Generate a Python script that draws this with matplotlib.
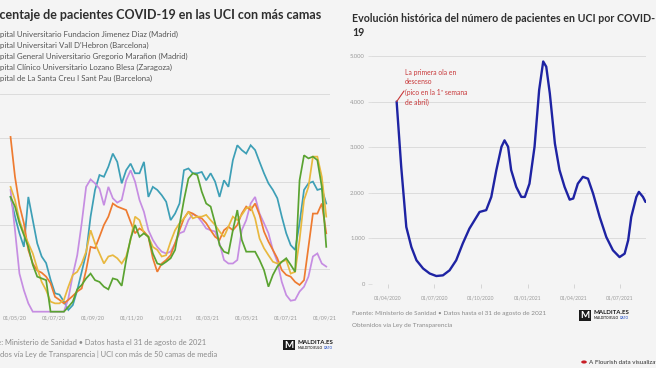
import matplotlib
matplotlib.use('Agg')
import matplotlib.pyplot as plt
import matplotlib.dates as mdates
import matplotlib.ticker as mticker
import pandas as pd
from matplotlib.patches import Rectangle, Circle

W, H = 656, 368
BG = '#f4f4f4'
FONT = 'Lato'
plt.rcParams['font.family'] = [FONT, 'DejaVu Sans']

# ---------------- data: left chart (weekly, % of ICU beds) ----------------
inicio_semanal = '2020-04-24'
hospitales = [
    'Hospital Universitario Fundacion Jimenez Diaz (Madrid)',
    "Hospital Universitari Vall D'Hebron (Barcelona)",
    'Hospital General Universitario Gregorio Marañon (Madrid)',
    'Hospital Clínico Universitario Lozano Blesa (Zaragoza)',
    'Hospital de La Santa Creu I Sant Pau (Barcelona)',
]
pct_jimenez_diaz = [26.5, 22.0, 18.2, 15.1, 26.5, 21.2, 15.9, 12.9, 11.4, 7.6, 4.5, 4.2, 2.6, 0.7, 1.8, 5.2,
                    9.4, 13.6, 22.0, 28.1, 31.5, 31.1, 33.4, 36.4, 34.5, 29.6, 32.6, 34.1, 31.9, 31.9, 34.5, 26.5,
                    28.8, 28.1, 26.9, 25.4, 21.2, 22.7, 25.0, 32.6, 33.0, 31.9, 31.9, 32.2, 30.3, 31.9, 30.0, 26.5,
                    30.3, 28.8, 34.9, 38.3, 37.2, 36.4, 38.3, 37.2, 34.5, 31.9, 29.6, 28.1, 26.2, 22.0, 18.2, 15.5,
                    14.4, 20.5, 28.1, 29.6, 30.0, 28.1, 28.4, 25.0]
pct_vall_hebron = [40.2, 31.1, 24.6, 20.5, 14.4, 11.3, 9.7, 9.2, 8.3, 6.8, 3.7, 3.0, 2.2, 3.0, 3.9, 4.9,
                   5.6, 9.8, 15.1, 14.8, 17.4, 20.1, 22.0, 25.0, 24.3, 23.9, 23.5, 20.8, 18.2, 19.3, 18.6, 17.4,
                   12.5, 9.4, 11.3, 12.1, 13.2, 15.9, 18.9, 21.6, 23.1, 22.7, 22.0, 21.6, 20.5, 18.9, 17.4, 16.7,
                   18.9, 19.7, 18.9, 20.1, 22.7, 24.3, 23.5, 25.0, 22.4, 18.6, 16.3, 14.4, 12.5, 9.8, 8.7, 8.3,
                   7.1, 6.4, 7.5, 15.1, 22.7, 22.7, 25.0, 18.2]
pct_gregorio_maranon = [28.8, 25.8, 21.2, 18.2, 15.9, 13.6, 10.2, 7.1, 5.2, 2.6, 2.2, 2.2, 3.0, 6.0, 8.7, 9.4,
                        11.3, 14.0, 18.9, 15.9, 13.6, 11.3, 12.9, 13.2, 12.5, 11.3, 12.9, 16.7, 22.0, 21.2, 18.2, 17.4,
                        15.1, 14.4, 12.9, 13.2, 16.3, 18.9, 20.5, 21.6, 23.1, 21.6, 22.0, 22.0, 22.4, 21.2, 20.1, 18.6,
                        17.4, 19.7, 22.0, 21.2, 22.4, 23.9, 24.3, 21.6, 17.0, 14.8, 13.2, 11.7, 11.3, 11.7, 12.1, 9.0,
                        9.4, 16.7, 25.8, 28.8, 35.7, 35.7, 31.1, 22.0]
pct_lozano_blesa = [26.5, 24.3, 20.5, 17.8, 15.1, 11.0, 8.3, 7.9, 7.5, 0.3, 0.3, 0.3, 0.3, 1.4, 2.6, 5.4,
                    6.4, 7.9, 9.0, 7.5, 7.1, 6.0, 5.4, 7.9, 7.6, 6.2, 12.1, 17.0, 20.1, 17.4, 18.2, 17.4,
                    13.6, 11.3, 11.0, 11.7, 12.5, 14.4, 20.1, 25.8, 30.7, 31.9, 31.5, 27.7, 25.0, 24.3, 20.5, 15.5,
                    14.0, 13.6, 18.9, 23.5, 16.7, 14.0, 14.0, 14.0, 12.1, 9.8, 6.0, 8.7, 10.6, 11.7, 12.5, 11.0,
                    9.4, 30.3, 36.0, 35.3, 35.7, 34.9, 28.8, 15.1]
pct_sant_pau = [28.1, 18.9, 9.0, 5.2, 2.2, 0.3, 0.3, 0.3, 0.3, 0.3, 0.3, 0.3, 0.3, 3.3, 8.7, 13.2,
                20.5, 28.8, 30.5, 29.6, 28.4, 24.6, 28.8, 26.2, 25.2, 25.8, 30.3, 32.6, 30.0, 25.8, 23.1, 18.9,
                16.7, 15.1, 14.0, 13.6, 14.0, 15.9, 18.2, 18.6, 21.2, 22.6, 22.1, 20.8, 19.3, 18.9, 18.6, 15.9,
                12.1, 11.3, 11.3, 12.1, 18.9, 21.2, 25.0, 26.5, 22.7, 20.5, 18.2, 14.4, 11.7, 7.1, 4.1, 2.8,
                3.0, 4.9, 6.0, 8.3, 12.9, 13.6, 11.3, 10.6]
colores_hosp = ['#3d9fb6', '#ee7b30', '#e8b83f', '#5aa331', '#c68de2']
ticks_izq = ['2020-05-01', '2020-07-01', '2020-09-01', '2020-11-01', '2021-01-01',
             '2021-03-01', '2021-05-01', '2021-07-01', '2021-09-01']

# ---------------- data: right chart (ICU patients) ----------------
fechas_uci = ['2020-04-18', '2020-04-27', '2020-05-07', '2020-05-17', '2020-05-27', '2020-06-09',
              '2020-06-22', '2020-07-05', '2020-07-18', '2020-07-31', '2020-08-13', '2020-08-26',
              '2020-09-08', '2020-09-22', '2020-09-28', '2020-10-11', '2020-10-21', '2020-10-31',
              '2020-11-10', '2020-11-16', '2020-11-23', '2020-11-29', '2020-12-09', '2020-12-19',
              '2020-12-26', '2021-01-04', '2021-01-14', '2021-01-23', '2021-01-31', '2021-02-06',
              '2021-02-13', '2021-02-23', '2021-03-04', '2021-03-14', '2021-03-24', '2021-03-31',
              '2021-04-09', '2021-04-19', '2021-04-29', '2021-05-09', '2021-05-22', '2021-06-04',
              '2021-06-17', '2021-06-30', '2021-07-10', '2021-07-17', '2021-07-23', '2021-08-02',
              '2021-08-07', '2021-08-15', '2021-08-20']
pacientes_uci = [4000, 2570, 1250, 810, 520, 340, 230, 175, 190, 300, 520, 890,
                 1215, 1470, 1580, 1620, 1910, 2500, 3010, 3150, 3010, 2500, 2130, 1910,
                 1910, 2200, 3010, 4250, 4880, 4765, 4180, 3080, 2500, 2130, 1850, 1875,
                 2200, 2350, 2310, 1985, 1470, 1030, 740, 590, 665, 960, 1470, 1910,
                 2020, 1910, 1800]
ticks_der = ['2020-04-01', '2020-07-01', '2020-10-01', '2021-01-01', '2021-04-01', '2021-07-01']
yticks_der = [0, 1000, 2000, 3000, 4000, 5000]

# ---------------- figure & helpers ----------------
fig = plt.figure(figsize=(W / 100, H / 100), dpi=100, facecolor=BG)
renderer = fig.canvas.get_renderer()


def text_w(s, size, weight='normal'):
    t = fig.text(0, 0, s, fontsize=size, fontweight=weight)
    w = t.get_window_extent(renderer).width
    t.remove()
    return w


def fit(s, target, weight='normal'):
    return 10.0 * target / text_w(s, 10.0, weight)


def fx(x):
    return x / W


def fy(y):
    return 1 - y / H


def cut_text(full, visible, x_vis, y, size, weight='normal', color='#333', zorder=3):
    off = text_w(full, size, weight) - text_w(visible, size, weight)
    fig.text(fx(x_vis - off), fy(y), full, fontsize=size, fontweight=weight,
             color=color, va='center', ha='left', zorder=zorder)


# ---------------- left chart ----------------
axL = fig.add_axes([fx(0), fy(313), fx(330), (313 - 94) / H], zorder=1)
axL.set_facecolor('none')
fechas_sem = pd.date_range(inicio_semanal, periods=len(pct_jimenez_diaz), freq='7D')
series = [pct_jimenez_diaz, pct_vall_hebron, pct_gregorio_maranon, pct_lozano_blesa, pct_sant_pau]
orden = [0, 4, 1, 2, 3]
for i in orden:
    axL.plot(fechas_sem, series[i], color=colores_hosp[i], lw=1.25, solid_joinstyle='miter')
may1 = mdates.date2num(pd.Timestamp('2020-05-01'))
axL.set_xlim(may1 - 23.6, may1 + 495.9)
axL.set_ylim(0, 50)
axL.set_yticks([0, 10, 20, 30, 40, 50])
axL.yaxis.grid(True, color='#dcdcdc', lw=0.7)
axL.set_axisbelow(True)
axL.tick_params(axis='y', length=0, labelleft=False)
axL.set_xticks(pd.to_datetime(ticks_izq))
axL.xaxis.set_major_formatter(mdates.DateFormatter('%d/%m/%y'))
sz_tick_l = fit('01/05/20', 24)
axL.tick_params(axis='x', length=0, pad=2, labelsize=sz_tick_l, labelcolor='#9a9a9a')
for s in axL.spines.values():
    s.set_visible(False)

sz_title = fit('centaje de pacientes COVID-19 en las UCI con más camas', 322, 'bold')
cut_text('Porcentaje de pacientes COVID-19 en las UCI con más camas',
         'centaje de pacientes COVID-19 en las UCI con más camas', 0, 15, sz_title, 'bold', '#2e2e2e')
sz_leg = fit('pital Universitario Fundacion Jimenez Diaz (Madrid)', 177)
for i, h in enumerate(hospitales):
    cut_text(h, h[3:], 0, 34 + 11 * i, sz_leg, 'normal', '#555555')

sz_foot_l = fit('Ministerio de Sanidad • Datos hasta el 31 de agosto de 2021', 200)
cut_text('Fuente: Ministerio de Sanidad • Datos hasta el 31 de agosto de 2021',
         'Ministerio de Sanidad • Datos hasta el 31 de agosto de 2021', 5, 343, sz_foot_l, 'normal', '#8a8a8a')
cut_text('Obtenidos vía Ley de Transparencia | UCI con más de 50 camas de media',
         'dos vía Ley de Transparencia | UCI con más de 50 camas de media', 0, 354, sz_foot_l, 'normal', '#8a8a8a')


def logo(x, y, w, h, zorder):
    fig.patches.append(Rectangle((fx(x), fy(y + h)), w / W, h / H, transform=fig.transFigure,
                                 facecolor='#1a1a1a', edgecolor='none', zorder=zorder))
    fig.text(fx(x + w / 2), fy(y + h / 2), 'M', fontsize=7, fontweight='bold', color='white',
             ha='center', va='center', zorder=zorder + 1)
    fig.text(fx(x + w + 3), fy(y + 2.8), 'MALDITA.ES', fontsize=4.4, fontweight='bold', color='#1a1a1a',
             ha='left', va='center', zorder=zorder + 1)
    sub = 'MALDITO BULO '
    fig.text(fx(x + w + 3), fy(y + 7.8), sub, fontsize=2.3, fontweight='bold', color='#333333',
             ha='left', va='center', zorder=zorder + 1)
    fig.text(fx(x + w + 4 + text_w(sub, 2.3, 'bold')), fy(y + 7.8), 'DATO', fontsize=2.3,
             fontweight='bold', color='#4a6fd0', ha='left', va='center', zorder=zorder + 1)


logo(283, 340, 12, 10, 3)

# cover: right panel background
fig.patches.append(Rectangle((fx(336), 0), 1 - fx(336), 1, transform=fig.transFigure,
                             facecolor=BG, edgecolor='none', zorder=5))

# ---------------- right chart ----------------
axR = fig.add_axes([fx(372), fy(284), (646 - 372) / W, (284 - 56) / H], zorder=10)
axR.set_facecolor('none')
fu = pd.to_datetime(fechas_uci)
axR.plot(fu, pacientes_uci, color='#1e23a3', lw=1.7, solid_capstyle='round', solid_joinstyle='round')
apr1 = mdates.date2num(pd.Timestamp('2020-04-01'))
jul1_21 = mdates.date2num(pd.Timestamp('2021-07-01'))
axR.set_xlim(apr1 - 31.4, jul1_21 + 51)
axR.set_ylim(0, 5000)
axR.set_yticks(yticks_der)
axR.yaxis.set_major_formatter(mticker.FuncFormatter(lambda v, p: f'{int(v):,}'.replace(',', '.')))
axR.yaxis.grid(True, color='#dcdcdc', lw=0.7)
axR.set_axisbelow(True)
sz_ytick_r = fit('5.000', 15)
axR.tick_params(axis='y', length=3, width=0.6, color='#dcdcdc', pad=2,
                labelsize=sz_ytick_r, labelcolor='#9a9a9a')
axR.set_xticks(pd.to_datetime(ticks_der))
axR.xaxis.set_major_formatter(mdates.DateFormatter('%d/%m/%Y'))
sz_xtick_r = fit('01/04/2020', 28)
axR.tick_params(axis='x', length=3, width=0.6, color='#cfcfcf', pad=5,
                labelsize=sz_xtick_r, labelcolor='#9a9a9a')
for s in axR.spines.values():
    s.set_visible(False)

sz_title_r = fit('Evolución histórica del número de pacientes en UCI por COVID-', 303, 'bold')
fig.text(fx(352), fy(18), 'Evolución histórica del número de pacientes en UCI por COVID-',
         fontsize=sz_title_r, fontweight='bold', color='#2e2e2e', va='center', ha='left', zorder=11)
fig.text(fx(352), fy(33), '19', fontsize=sz_title_r, fontweight='bold', color='#2e2e2e',
         va='center', ha='left', zorder=11)

# annotation
RED = '#c8383a'
sz_ann = fit('(pico en la 1ª semana', 62)
for j, line in enumerate(['La primera ola en', 'descenso', '(pico en la 1ª semana', 'de abril)']):
    fig.text(fx(405), fy(72 + 10 * j), line, fontsize=sz_ann, color=RED, va='center', ha='left', zorder=11)
axR.annotate('', xy=(fu[0], pacientes_uci[0]), xycoords='data',
             xytext=(404, H - 91), textcoords='figure pixels',
             arrowprops=dict(arrowstyle='-', color=RED, lw=0.8, shrinkA=0, shrinkB=0))

sz_foot_r = fit('Fuente: Ministerio de Sanidad • Datos hasta el 31 de agosto de 2021', 193)
fig.text(fx(352), fy(313), 'Fuente: Ministerio de Sanidad • Datos hasta el 31 de agosto de 2021',
         fontsize=sz_foot_r, color='#8a8a8a', va='center', ha='left', zorder=11)
fig.text(fx(352), fy(325), 'Obtenidos vía Ley de Transparencia',
         fontsize=sz_foot_r, color='#8a8a8a', va='center', ha='left', zorder=11)

logo(579, 310, 12, 11, 11)

fig.patches.append(Circle((fx(584), fy(362)), 2.8 / W, transform=fig.transFigure,
                          facecolor='#c81e26', edgecolor='none', zorder=11))
sz_fl = fit('A Flourish data visualizat', 68)
fig.text(fx(589), fy(362), 'A Flourish data visualization', fontsize=sz_fl, color='#333333',
         va='center', ha='left', zorder=11)

fig.savefig('out.png', dpi=100, facecolor=BG)
